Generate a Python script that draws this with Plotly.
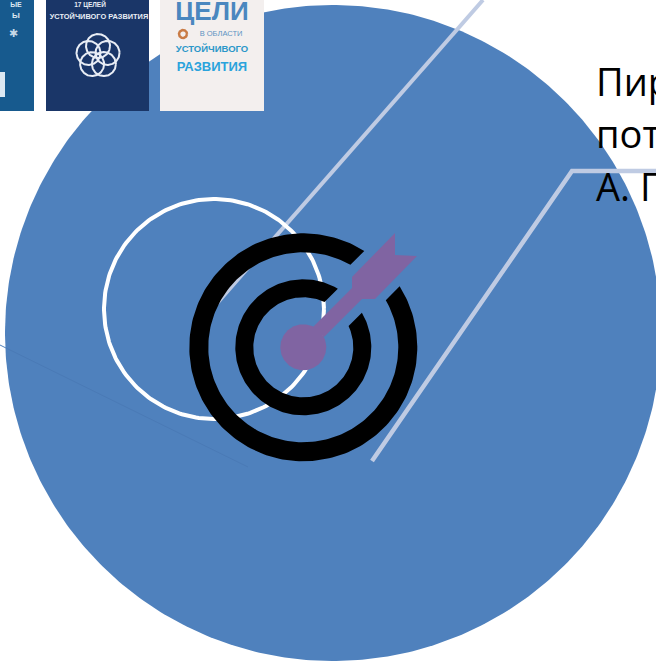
import numpy as np
import plotly.graph_objects as go

W, H = 656, 662
BLUE = "#4F81BD"
PALE = "#BFCBE3"
PURPLE = "#8064A2"

big_circle = (333, 333, 328)
white_circle = (214, 309, 110)
target_center = (303.3, 347.3)
rings = [(95, 114, 25), (50, 68, 17)]
hub_radius = 23
arrow_x = [313, 352, 352, 395, 395, 417, 375, 362, 324]
arrow_y = [327, 288, 277, 233, 255, 256, 299, 299, 337]
pointer1_x = [483, 212]
pointer1_y = [0, 309]
pointer2_x = [656, 572, 372]
pointer2_y = [171, 171, 461]
faint_x = [6, 248]
faint_y = [348, 467]
tiles = [(-70, 34, "#175A8E"), (46, 149, "#1A3668"), (160, 264, "#F3EFEE")]
tile_bottom = 111
body_lines = ["Пир", "пот", "А. П"]
body_baselines = [98, 150, 203]
flower_center = (98, 56)
SANS = "Liberation Sans"


def circle(cx, cy, r, n=240):
    t = np.linspace(0, 2 * np.pi, n)
    return cx + r * np.cos(t), cy + r * np.sin(t)


def ring_arc(cx, cy, r_in, r_out, half_gap):
    a_out = np.arcsin(half_gap / r_out)
    a_in = np.arcsin(half_gap / r_in)
    mid = -np.pi / 4
    t_o = np.linspace(mid + a_out, mid - a_out + 2 * np.pi, 200)
    t_i = np.linspace(mid - a_in + 2 * np.pi, mid + a_in, 200)
    x = np.r_[cx + r_out * np.cos(t_o), cx + r_in * np.cos(t_i)]
    y = np.r_[cy + r_out * np.sin(t_o), cy + r_in * np.sin(t_i)]
    return np.r_[x, x[0]], np.r_[y, y[0]]


fig = go.Figure()


def fill(x, y, color):
    fig.add_trace(go.Scatter(x=x, y=y, mode="lines", fill="toself", fillcolor=color,
                             line=dict(width=0, color=color), hoverinfo="skip"))


def line(x, y, color, width):
    fig.add_trace(go.Scatter(x=x, y=y, mode="lines", line=dict(color=color, width=width),
                             hoverinfo="skip"))


def text(x, y, s, size, color, family=SANS, pos="middle center", bold=False):
    if bold:
        s = "<b>" + s + "</b>"
    fig.add_trace(go.Scatter(x=[x], y=[y], mode="text", text=[s], textposition=pos,
                             textfont=dict(size=size, color=color, family=family),
                             hoverinfo="skip"))


line([0, 6], [345, 348], BLUE, 1)
fill(*circle(*big_circle, n=480), BLUE)
line(faint_x, faint_y, "#4A7AB6", 1)

for x0, x1, c in tiles:
    fill([x0, x1, x1, x0, x0], [-5, -5, tile_bottom, tile_bottom, -5], c)

# tile 1 details
text(16, 5, "ЫЕ", 7, "#DCE8F2", bold=True)
text(16, 16, "Ы", 8, "#DCE8F2", bold=True)
text(13, 34, "✱", 11, "#C6D8E6")
fill([-2, 5, 5, -2, -2], [72, 72, 97, 97, 72], "#DCE8F2")

# tile 2 details
text(90, 5, "17 ЦЕЛЕЙ", 6.5, "#E8EDF5", bold=True)
text(99, 17, "УСТОЙЧИВОГО РАЗВИТИЯ", 7.4, "#E8EDF5", bold=True)
for k in range(5):
    a = -np.pi / 2 + k * 2 * np.pi / 5
    line(*circle(flower_center[0] + 10 * np.cos(a), flower_center[1] + 10 * np.sin(a), 12), "#E8EDF5", 2)

# tile 3 details
text(212, 13, "ЦЕЛИ", 26, "#4A87BF", bold=True)
text(221, 34, "В ОБЛАСТИ", 7.5, "#5D93C2")
line(*circle(183, 34, 4), "#C97B45", 2.5)
text(212, 50, "УСТОЙЧИВОГО", 9.5, "#2B97C9", bold=True)
text(212, 68, "РАЗВИТИЯ", 13, "#2AA3DC", bold=True)

line(pointer1_x, pointer1_y, PALE, 4)
line(*circle(*white_circle), "#FFFFFF", 4)
line(pointer2_x, pointer2_y, PALE, 4.5)

for r_in, r_out, gap in rings:
    fill(*ring_arc(*target_center, r_in, r_out, gap), "#000000")
fill(*circle(*target_center, hub_radius), PURPLE)
fill(arrow_x + arrow_x[:1], arrow_y + arrow_y[:1], PURPLE)

for s, b in zip(body_lines, body_baselines):
    text(596, b + 7, s, 38, "#000000", family="Open Sans", pos="top right")

fig.update_layout(
    width=W, height=H, margin=dict(l=0, r=0, t=0, b=0),
    paper_bgcolor="#FFFFFF", plot_bgcolor="#FFFFFF", showlegend=False,
    xaxis=dict(range=[0, W], visible=False, fixedrange=True),
    yaxis=dict(range=[H, 0], visible=False, fixedrange=True),
)
fig.write_html("out.html", config={"displayModeBar": False},
               post_script="document.body.style.margin='0';document.body.style.overflow='hidden';")
